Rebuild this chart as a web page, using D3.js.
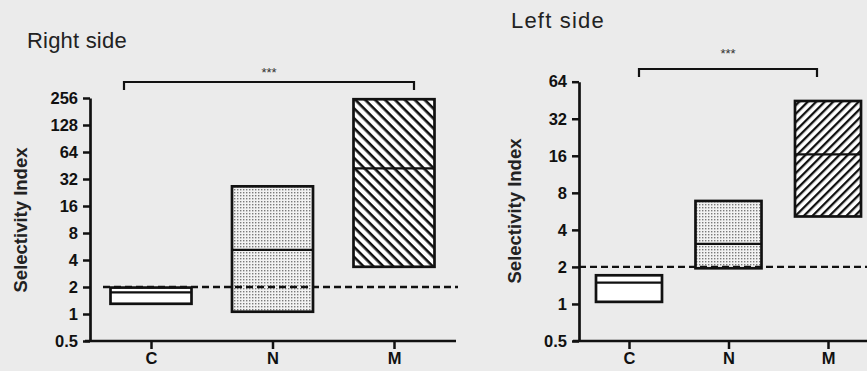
<!DOCTYPE html>
<html>
<head>
<meta charset="utf-8">
<script src="https://cdn.jsdelivr.net/npm/d3@7"></script>
<style>
    body { margin: 0; background: #ebebeb; }
    svg { display: block; font-family: Arial, "Liberation Sans", sans-serif; }
</style>
</head>
<body>
<svg id="chart" width="867" height="371"></svg>
<script>
// categories and box values (min / median / max)
var categories = ["C", "N", "M"];

var rightLow = [1.3, 1.06, 3.36];
var rightMed = [1.74, 5.2, 42];
var rightHigh = [1.97, 26.5, 248];

var leftLow = [1.04, 1.95, 5.14];
var leftMed = [1.49, 3.08, 16.4];
var leftHigh = [1.71, 6.87, 44.6];

var rightTicks = [0.5, 1, 2, 4, 8, 16, 32, 64, 128, 256];
var leftTicks = [0.5, 1, 2, 4, 8, 16, 32, 64];

var threshold = 2;

window.onload = function () {
    var svg = d3.select("#chart");
    makePatterns(svg);

    drawPanel(svg, {
        title: "Right side", titleX: 27, titleY: 48, titleSize: 22, titleSpacing: 0.2,
        low: rightLow, med: rightMed, high: rightHigh, ticks: rightTicks,
        yTop: 98, yBottom: 341, axisX: 90,
        xFirst: 151, xLast: 394, boxW: 81,
        xLineFrom: 85, xLineTo: 456, dashFrom: 103, dashTo: 458,
        labelX: 21, labelY: 220,
        bracketY: 82, bracketFrom: 124, bracketTo: 414, starsY: 77,
        hatch: "hatchBack"
    });

    drawPanel(svg, {
        title: "Left side", titleX: 511, titleY: 28, titleSize: 22, titleSpacing: 1.2,
        low: leftLow, med: leftMed, high: leftHigh, ticks: leftTicks,
        yTop: 81.7, yBottom: 341, axisX: 579,
        xFirst: 629, xLast: 828, boxW: 66,
        xLineFrom: 573, xLineTo: 867, dashFrom: 579, dashTo: 867,
        labelX: 515, labelY: 211,
        bracketY: 69, bracketFrom: 639, bracketTo: 817, starsY: 58,
        hatch: "hatchFwd"
    });
};

function makePatterns(svg) {
    var defs = svg.append("defs");

    var dots = defs.append("pattern")
        .attr("id", "dots")
        .attr("patternUnits", "userSpaceOnUse")
        .attr("width", 3).attr("height", 3);
    dots.append("rect").attr("width", 3).attr("height", 3).attr("fill", "#f2f2f2");
    dots.append("rect").attr("width", 1.4).attr("height", 1.4).attr("fill", "#7a7a7a");

    // "\" stripes
    var back = defs.append("pattern")
        .attr("id", "hatchBack")
        .attr("patternUnits", "userSpaceOnUse")
        .attr("width", 7).attr("height", 7)
        .attr("patternTransform", "rotate(45)");
    back.append("rect").attr("width", 7).attr("height", 7).attr("fill", "#fff");
    back.append("rect").attr("width", 7).attr("height", 2.6).attr("fill", "#111");

    // "/" stripes
    var fwd = defs.append("pattern")
        .attr("id", "hatchFwd")
        .attr("patternUnits", "userSpaceOnUse")
        .attr("width", 6).attr("height", 6)
        .attr("patternTransform", "rotate(-45)");
    fwd.append("rect").attr("width", 6).attr("height", 6).attr("fill", "#fff");
    fwd.append("rect").attr("width", 6).attr("height", 2.3).attr("fill", "#111");
}

function styleText(sel, size) {
    sel.attr("font-size", size).attr("font-weight", "bold")
        .attr("font-family", "Arial, 'Liberation Sans', sans-serif")
        .attr("fill", "#111");
}

function drawPanel(svg, p) {
    var g = svg.append("g");

    var y = d3.scaleLog().base(2)
        .domain([p.ticks[0], p.ticks[p.ticks.length - 1]])
        .range([p.yBottom, p.yTop]);

    var x = d3.scalePoint()
        .domain(categories)
        .range([p.xFirst, p.xLast]);

    var fills = ["#fff", "url(#dots)", "url(#" + p.hatch + ")"];

    // title
    g.append("text")
        .attr("x", p.titleX)
        .attr("y", p.titleY)
        .attr("font-size", p.titleSize)
        .attr("letter-spacing", p.titleSpacing)
        .attr("fill", "#222")
        .text(p.title);

    // boxes
    var boxes = g.selectAll(".box")
        .data(categories)
        .enter().append("g")
        .attr("class", "box");

    boxes.append("rect")
        .attr("x", function(d) { return x(d) - p.boxW / 2; })
        .attr("y", function(d, i) { return y(p.high[i]); })
        .attr("width", p.boxW)
        .attr("height", function(d, i) { return y(p.low[i]) - y(p.high[i]); })
        .attr("fill", function(d, i) { return fills[i]; })
        .attr("stroke", "#111")
        .attr("stroke-width", 2.7);

    boxes.append("line")
        .attr("x1", function(d) { return x(d) - p.boxW / 2; })
        .attr("x2", function(d) { return x(d) + p.boxW / 2; })
        .attr("y1", function(d, i) { return y(p.med[i]); })
        .attr("y2", function(d, i) { return y(p.med[i]); })
        .attr("stroke", "#111")
        .attr("stroke-width", 2.2);

    // threshold line
    g.append("line")
        .attr("x1", p.dashFrom).attr("x2", p.dashTo)
        .attr("y1", y(threshold)).attr("y2", y(threshold))
        .attr("stroke", "#111")
        .attr("stroke-width", 2.3)
        .attr("stroke-dasharray", "7,4");

    // y axis
    var yAxis = g.append("g")
        .attr("transform", "translate(" + p.axisX + ",0)")
        .call(d3.axisLeft(y)
            .tickValues(p.ticks)
            .tickFormat(function(d) { return d; })
            .tickSize(7)
            .tickSizeOuter(0)
            .tickPadding(5));
    yAxis.select(".domain").attr("stroke", "#111").attr("stroke-width", 2.7);
    yAxis.selectAll(".tick line").attr("stroke", "#111").attr("stroke-width", 2.5);
    styleText(yAxis.selectAll(".tick text"), 16.5);

    // x axis
    g.append("line")
        .attr("x1", p.xLineFrom).attr("x2", p.xLineTo)
        .attr("y1", p.yBottom).attr("y2", p.yBottom)
        .attr("stroke", "#111")
        .attr("stroke-width", 2.7);

    var xAxis = g.append("g")
        .attr("transform", "translate(0," + p.yBottom + ")")
        .call(d3.axisBottom(x).tickSize(8).tickPadding(3));
    xAxis.select(".domain").remove();
    xAxis.selectAll(".tick line").attr("stroke", "#111").attr("stroke-width", 2.5);
    styleText(xAxis.selectAll(".tick text"), 16.5);

    // axis label
    g.append("text")
        .attr("transform", "translate(" + p.labelX + "," + p.labelY + ") rotate(-90)")
        .attr("text-anchor", "middle")
        .attr("dy", "0.35em")
        .attr("font-size", 18.5)
        .attr("font-weight", "bold")
        .attr("fill", "#222")
        .text("Selectivity Index");

    // significance bracket
    g.append("path")
        .attr("d", "M" + p.bracketFrom + "," + (p.bracketY + 8) +
            "V" + p.bracketY + "H" + p.bracketTo + "V" + (p.bracketY + 8))
        .attr("fill", "none")
        .attr("stroke", "#111")
        .attr("stroke-width", 2.2);

    g.append("text")
        .attr("x", (p.bracketFrom + p.bracketTo) / 2)
        .attr("y", p.starsY)
        .attr("text-anchor", "middle")
        .attr("font-size", 13)
        .attr("fill", "#333")
        .text("***");
}
</script>
</body>
</html>
